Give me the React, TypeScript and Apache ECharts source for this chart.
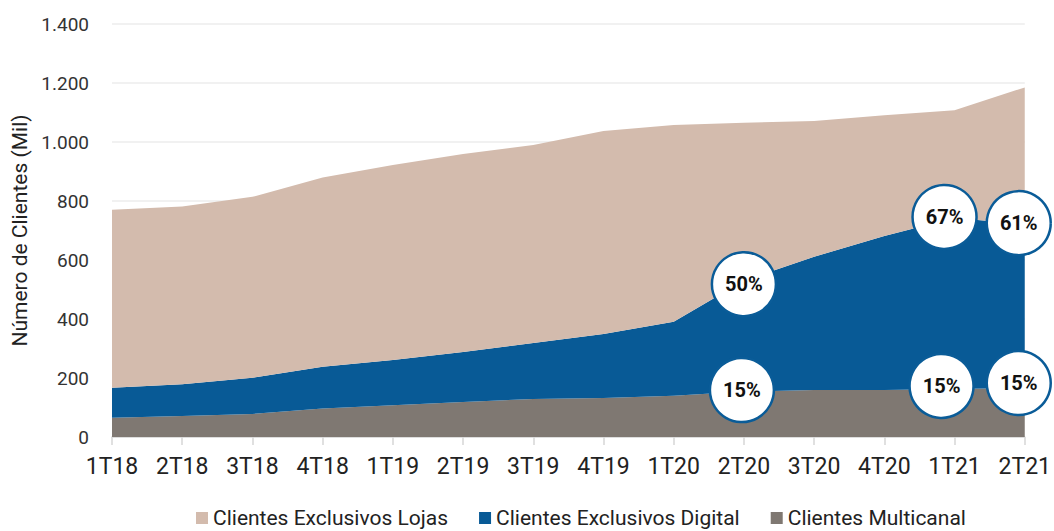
import React, { useEffect, useRef } from "react";
import * as echarts from "echarts";

// Quarters on the x axis
const categories = [
  "1T18", "2T18", "3T18", "4T18",
  "1T19", "2T19", "3T19", "4T19",
  "1T20", "2T20", "3T20", "4T20",
  "1T21", "2T21",
];

// Client counts (thousands), stacked from the bottom up
const multicanal = [65, 71, 78, 97, 108, 119, 129, 132, 140, 154, 159, 159, 163, 166];
const exclusivosDigital = [102, 108, 123, 141, 153, 169, 190, 217, 251, 376, 452, 522, 579, 556];
const exclusivosLojas = [603, 602, 613, 642, 661, 671, 671, 688, 667, 535, 460, 410, 366, 463];

// Y axis ticks
const yTicks = [0, 200, 400, 600, 800, 1000, 1200, 1400];

// Percentage callouts: [category, y value, text, x shift]
const callouts: [string, number, string, number][] = [
  ["2T20", 518, "50%", 0],
  ["1T21", 746, "67%", -10],
  ["2T21", 725, "61%", -6],
  ["2T20", 159, "15%", -2],
  ["1T21", 173, "15%", -13],
  ["2T21", 183, "15%", -6],
];

const COLOR_LOJAS = "#d3bbad";
const COLOR_DIGITAL = "#085a96";
const COLOR_MULTI = "#7f7872";
const FONT = "Roboto, 'Noto Sans', sans-serif";

const fmtThousands = (v: number) =>
  v.toString().replace(/\B(?=(\d{3})+(?!\d))/g, ".");

export default function App() {
  const ref = useRef<HTMLDivElement>(null);

  useEffect(() => {
    if (!ref.current) return;
    const chart = echarts.init(ref.current, null, { renderer: "svg" });

    const areaSeries = (name: string, data: number[], color: string) => ({
      name,
      type: "line",
      stack: "total",
      data,
      symbol: "none",
      showSymbol: false,
      lineStyle: { width: 0 },
      itemStyle: { color },
      areaStyle: { color, opacity: 1 },
      emphasis: { disabled: true },
    });

    chart.setOption({
      animation: false,
      textStyle: { fontFamily: FONT },
      grid: { left: 112, right: 28, top: 24, bottom: 94 },
      legend: {
        data: [
          "Clientes Exclusivos Lojas",
          "Clientes Exclusivos Digital",
          "Clientes Multicanal",
        ],
        top: 507,
        left: 196,
        padding: 0,
        icon: "rect",
        itemWidth: 12,
        itemHeight: 12,
        itemGap: 31,
        textStyle: { fontSize: 21, lineHeight: 22, color: "#222", fontFamily: FONT },
      },
      xAxis: {
        type: "category",
        boundaryGap: false,
        data: categories,
        axisLine: { lineStyle: { color: "#d6d6d6", width: 1.5 } },
        axisTick: { show: true, interval: 0, length: 8, lineStyle: { color: "#d6d6d6", width: 1.5 } },
        axisLabel: { interval: 0, fontSize: 23, color: "#222", margin: 18, fontFamily: FONT },
        splitLine: { show: false },
      },
      yAxis: {
        type: "value",
        min: yTicks[0],
        max: yTicks[yTicks.length - 1],
        interval: yTicks[1] - yTicks[0],
        name: "Número de Clientes (Mil)",
        nameLocation: "middle",
        nameGap: 77,
        nameTextStyle: { fontSize: 21, color: "#222", fontFamily: FONT },
        axisLine: { show: false },
        axisTick: { show: false },
        axisLabel: {
          fontSize: 19,
          color: "#333",
          margin: 23,
          fontFamily: FONT,
          formatter: (v: number) => fmtThousands(v),
        },
        splitLine: { lineStyle: { color: "#ececec", width: 1.5 } },
      },
      series: [
        areaSeries("Clientes Multicanal", multicanal, COLOR_MULTI),
        areaSeries("Clientes Exclusivos Digital", exclusivosDigital, COLOR_DIGITAL),
        {
          ...areaSeries("Clientes Exclusivos Lojas", exclusivosLojas, COLOR_LOJAS),
          markPoint: {
            symbol: "circle",
            symbolSize: 64,
            silent: true,
            itemStyle: { color: "#ffffff", borderColor: "#0a5c98", borderWidth: 2.5 },
            label: {
              show: true,
              position: "inside",
              color: "#111",
              fontSize: 20,
              fontWeight: "bold",
              fontFamily: FONT,
            },
            data: callouts.map(([cat, val, text, dx]) => ({
              coord: [cat, val],
              symbolOffset: [dx, 0],
              label: { formatter: text },
            })),
          },
        },
      ],
    });

    return () => chart.dispose();
  }, []);

  return (
    <div
      ref={ref}
      style={{ position: "absolute", left: 0, top: 0, width: 1054, height: 531, background: "#fff" }}
    />
  );
}
